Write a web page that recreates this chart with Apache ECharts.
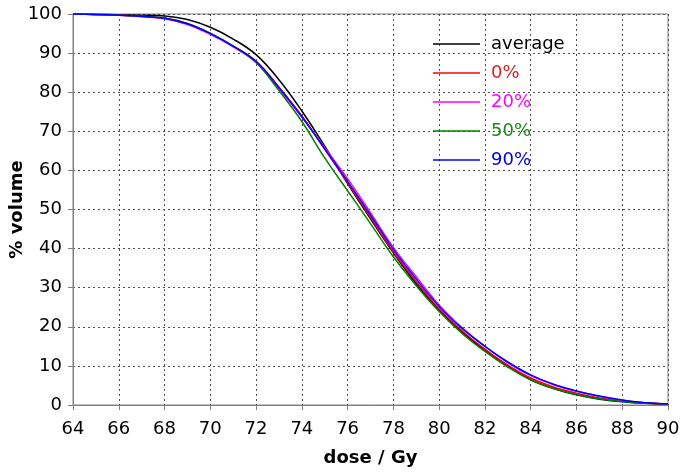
<!DOCTYPE html>
<html>
<head>
<meta charset="utf-8">
<script src="https://cdn.jsdelivr.net/npm/echarts@6/dist/echarts.min.js"></script>
<style>html,body{margin:0;padding:0;background:#fff}#c{width:685px;height:476px}</style>
</head>
<body>
<div id="c"></div>
<script>
const doses = [64,65,66,67,68,69,70,71,72,73,74,75,76,77,78,79,80,81,82,83,84,85,86,87,88,89,90];
const average = [100,99.9,99.8,99.7,99.5,98.6,96.6,93.6,89.6,83.2,75.2,66.2,56.6,47.6,38.9,31.0,24.3,18.7,14.0,9.9,6.5,4.2,2.6,1.5,0.85,0.45,0.3];
const pct0 = [100,99.9,99.7,99.4,98.9,97.5,95.0,91.8,87.9,81.3,73.9,65.4,56.8,48.0,39.2,31.6,24.6,19.0,14.3,10.2,6.9,4.6,3.0,1.8,1.0,0.5,0.3];
const pct20 = [100,99.9,99.7,99.3,98.8,97.3,94.8,91.6,87.6,80.9,73.6,65.8,57.9,49.2,40.3,32.8,25.6,19.8,15.0,10.8,7.5,5.2,3.5,2.2,1.2,0.6,0.3];
const pct50 = [100,99.9,99.7,99.4,99.0,97.6,95.1,91.8,87.6,80.4,72.5,63.2,54.8,46.4,37.9,30.5,23.9,18.3,13.7,9.7,6.4,4.2,2.7,1.6,0.9,0.5,0.3];
const pct90 = [100,99.9,99.7,99.4,98.9,97.5,95.0,91.8,87.9,81.2,73.8,65.5,57.2,48.6,39.8,32.2,25.2,19.6,15.0,11.0,7.7,5.3,3.6,2.3,1.3,0.6,0.3];
const seriesNames = ['average','0%','20%','50%','90%'];
const seriesColors = ['#000000','#ff0000','#ff00ff','#008000','#0000ff'];
const textColors = ['#000000','#e02020','#ff00ff','#1a8a1a','#0000e0'];
const seriesData = [average,pct0,pct20,pct50,pct90];

const chart = echarts.init(document.getElementById('c'));
const FONT = '"DejaVu Sans", sans-serif';
chart.setOption({
  animation: false,
  backgroundColor: '#ffffff',
  grid: {left: 73, right: 17, top: 14, bottom: 71, show: true, borderColor: '#808080', borderWidth: 1,
         containLabel: false, outerBoundsMode: 'none'},
  legend: {
    orient: 'vertical', left: 433, top: 35, padding: 0, icon: 'rect',
    itemWidth: 47, itemHeight: 1.5, itemGap: 11,
    data: seriesNames.map((n,i)=>({name:n, textStyle:{color:textColors[i]}})),
    textStyle: {fontFamily: FONT, fontSize: 18, padding: [0,0,0,6]}
  },
  xAxis: {
    type: 'value', min: 64, max: 90, interval: 2,
    name: 'dose / Gy', nameLocation: 'middle', nameGap: 44, nameMoveOverlap: false,
    nameTextStyle: {fontFamily: FONT, fontSize: 18, fontWeight: 'bold', color: '#000'},
    axisLine: {lineStyle: {color: '#808080'}},
    axisTick: {show: true, length: 5, lineStyle: {color: '#808080'}},
    axisLabel: {fontFamily: FONT, fontSize: 18, color: '#000', margin: 15},
    splitLine: {show: true, lineStyle: {color: '#505050', type: [2,3], width: 1}}
  },
  yAxis: {
    type: 'value', min: 0, max: 100, interval: 10,
    name: '% volume', nameLocation: 'middle', nameGap: 47, nameMoveOverlap: false,
    nameTextStyle: {fontFamily: FONT, fontSize: 18, fontWeight: 'bold', color: '#000'},
    axisLine: {show: true, lineStyle: {color: '#808080'}},
    axisTick: {show: true, length: 5, lineStyle: {color: '#808080'}},
    axisLabel: {fontFamily: FONT, fontSize: 18, color: '#000', margin: 11},
    splitLine: {show: true, lineStyle: {color: '#505050', type: [2,3], width: 1}}
  },
  series: seriesNames.map((n,i)=>({
    name: n, type: 'line', smooth: 0.4, symbol: 'none',
    lineStyle: {color: seriesColors[i], width: 1.5},
    itemStyle: {color: seriesColors[i]},
    data: doses.map((d,j)=>[d, seriesData[i][j]])
  }))
});
</script>
</body>
</html>
